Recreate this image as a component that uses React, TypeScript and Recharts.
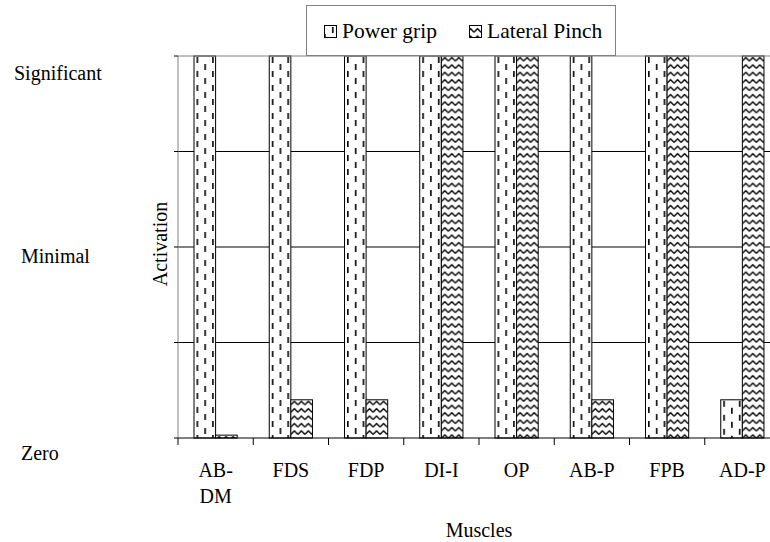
import React from "react";
import {
  BarChart,
  Bar,
  XAxis,
  YAxis,
  CartesianGrid,
  ReferenceLine,
  Legend,
} from "recharts";

const categories = ["AB-DM", "FDS", "FDP", "DI-I", "OP", "AB-P", "FPB", "AD-P"];
const powerGrip = [4, 4, 4, 4, 4, 4, 4, 0.4];
const lateralPinch = [0.03, 0.4, 0.4, 4, 4, 0.4, 4, 4];
const activationTicks = [0, 1, 2, 3, 4];
const activationLabels: Record<number, string> = { 0: "Zero", 2: "Minimal", 4: "Significant" };
const seriesNames = ["Power grip", "Lateral Pinch"];

const data = categories.map((muscle, i) => ({
  muscle,
  power: powerGrip[i],
  lateral: lateralPinch[i],
}));

const FONT = "'Liberation Serif', 'Times New Roman', serif";
const W = 790;
const H = 542;
const margin = { top: 56, right: 10, bottom: 44, left: 0 };
const Y_AXIS_W = 178;
const X_AXIS_H = 60;
const plotBottom = H - margin.bottom - X_AXIS_H;
const halfBand = (W - margin.left - margin.right - Y_AXIS_W) / categories.length / 2;

// y label placement (the labels sit a bit below their level in the original)
const yLabelPos: Record<number, { x: number; dy: number }> = {
  0: { x: 21, dy: 22 },
  2: { x: 21, dy: 16 },
  4: { x: 14, dy: 24 },
};

function YTick(props: any) {
  const { y, payload } = props;
  const label = activationLabels[payload.value];
  if (!label) return null;
  const pos = yLabelPos[payload.value];
  return (
    <text x={pos.x} y={y + pos.dy} fontSize={20} fontFamily={FONT} fill="#000">
      {label}
    </text>
  );
}

function XTick(props: any) {
  const { x, payload } = props;
  const name: string = payload.value;
  const lines = name.length > 4 ? name.replace("-", "-\n").split("\n") : [name];
  return (
    <g>
      <line x1={x - halfBand} x2={x - halfBand} y1={plotBottom} y2={plotBottom + 7} stroke="#000" />
      <text x={x} y={plotBottom + 39} textAnchor="middle" fontSize={20} fontFamily={FONT} fill="#000">
        {lines.map((l, i) => (
          <tspan key={i} x={x} dy={i === 0 ? 0 : 26}>
            {l}
          </tspan>
        ))}
      </text>
    </g>
  );
}

function PatternBar(patternId: string) {
  return (props: any) => {
    const { x, y, width, height } = props;
    if (!height || height <= 0) return null;
    return (
      <g transform={`translate(${x},${y})`}>
        <rect width={width} height={height} fill="#fff" />
        <rect width={width} height={height} fill={`url(#${patternId})`} stroke="#000" strokeWidth={1} />
      </g>
    );
  };
}

function LegendBox() {
  const items = [
    { name: seriesNames[0], pattern: "pat-power", x: 18 },
    { name: seriesNames[1], pattern: "pat-lateral", x: 163 },
  ];
  return (
    <svg width={310} height={51} style={{ display: "block" }}>
      <rect x={0.5} y={0.5} width={309} height={50} fill="#fff" stroke="#808080" />
      {items.map((it) => (
        <g key={it.name}>
          <rect x={it.x + 0.5} y={20.5} width={12} height={12} fill="#fff" />
          <rect x={it.x + 0.5} y={20.5} width={12} height={12} fill={`url(#${it.pattern})`} stroke="#000" />
          <text x={it.x + 18} y={33} fontSize={21.5} fontFamily={FONT} fill="#000">
            {it.name}
          </text>
        </g>
      ))}
    </svg>
  );
}

export default function App() {
  return (
    <div
      style={{
        position: "absolute",
        left: 0,
        top: 0,
        width: 770,
        height: 542,
        overflow: "hidden",
        background: "#fff",
      }}
    >
      <svg width={0} height={0} style={{ position: "absolute" }}>
        <defs>
          <pattern id="pat-power" patternUnits="userSpaceOnUse" x={2.5} y={0} width={15.6} height={14}>
            <rect x={0} y={1} width={1.7} height={6} fill="#111" />
            <rect x={7.8} y={8} width={1.7} height={6} fill="#111" />
          </pattern>
          <pattern id="pat-lateral" patternUnits="userSpaceOnUse" x={0} y={0} width={7} height={7.4}>
            <polyline
              points="0,5 3.5,1.5 7,5"
              fill="none"
              stroke="#111"
              strokeWidth={1.4}
              strokeLinejoin="round"
            />
          </pattern>
        </defs>
      </svg>
      <BarChart width={W} height={H} data={data} margin={margin} barGap={0} barSize={21.6}>
        <CartesianGrid vertical={false} horizontalValues={[1, 2, 3]} stroke="#000" />
        <XAxis
          dataKey="muscle"
          interval={0}
          height={X_AXIS_H}
          tickLine={false}
          axisLine={{ stroke: "#000" }}
          tick={<XTick />}
          label={{
            content: (p: any) => {
              const vb = p.viewBox || { x: 178, y: 438, width: 602 };
              return (
                <text
                  x={vb.x + vb.width / 2}
                  y={vb.y + 99}
                  textAnchor="middle"
                  fontSize={20}
                  fontFamily={FONT}
                  fill="#000"
                >
                  Muscles
                </text>
              );
            },
          }}
        />
        <YAxis
          type="number"
          domain={[0, 4]}
          ticks={activationTicks}
          interval={0}
          width={Y_AXIS_W}
          tickSize={4}
          tickLine={{ stroke: "#000" }}
          axisLine={{ stroke: "#808080" }}
          tick={<YTick />}
          label={{
            content: (p: any) => {
              const vb = p.viewBox || { x: 0, y: 56, width: 178, height: 382 };
              const cx = vb.x + vb.width - 18;
              const cy = vb.y + vb.height / 2 - 3;
              return (
                <text
                  x={cx}
                  y={cy}
                  textAnchor="middle"
                  dominantBaseline="central"
                  transform={`rotate(-90, ${cx}, ${cy})`}
                  fontSize={20}
                  fontFamily={FONT}
                  fill="#000"
                >
                  Activation
                </text>
              );
            },
          }}
        />
        <ReferenceLine y={4} stroke="#808080" />
        <Legend
          verticalAlign="middle"
          align="center"
          layout="horizontal"
          wrapperStyle={{ left: 306, top: 5, width: 310, height: 51 }}
          content={() => <LegendBox />}
        />
        <Bar dataKey="power" name={seriesNames[0]} isAnimationActive={false} shape={PatternBar("pat-power")} />
        <Bar dataKey="lateral" name={seriesNames[1]} isAnimationActive={false} shape={PatternBar("pat-lateral")} />
      </BarChart>
    </div>
  );
}
